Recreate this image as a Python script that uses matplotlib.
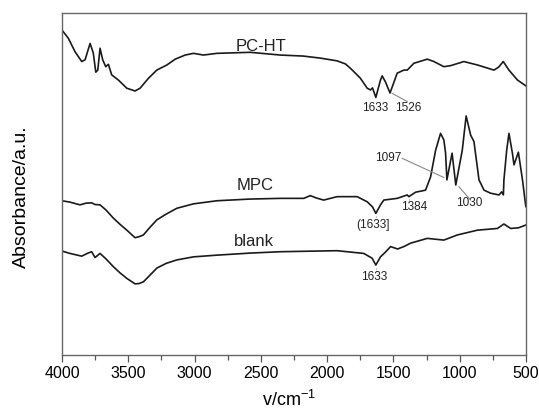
import numpy as np
import matplotlib
matplotlib.use("Agg")
import matplotlib.pyplot as plt
from matplotlib.ticker import MultipleLocator

plt.rcParams["font.family"] = ["Liberation Sans", "DejaVu Sans"]
plt.rcParams["mathtext.fontset"] = "custom"
plt.rcParams["mathtext.rm"] = "Liberation Sans"

# wavenumber (cm-1) / absorbance (a.u., offset stacked)
pcht_wn = [4000, 3952, 3902, 3851, 3826, 3788, 3764, 3745, 3730, 3713, 3693, 3670,
           3650, 3625, 3575, 3511, 3449, 3411, 3348, 3285, 3209, 3146, 3071, 3008,
           2933, 2831, 2580, 2353, 2179, 2051, 1925, 1862, 1824, 1787, 1749, 1698,
           1673, 1658, 1633, 1598, 1585, 1560, 1526, 1472, 1422, 1396, 1346, 1245,
           1195, 1120, 1069, 969, 867, 742, 706, 672, 629, 565, 502]
pcht_a = [0.950, 0.926, 0.887, 0.858, 0.863, 0.911, 0.883, 0.827, 0.833, 0.897, 0.863, 0.843,
          0.850, 0.819, 0.804, 0.780, 0.772, 0.780, 0.809, 0.833, 0.848, 0.865, 0.877, 0.882,
          0.877, 0.882, 0.885, 0.877, 0.874, 0.868, 0.860, 0.851, 0.838, 0.824, 0.809, 0.780,
          0.775, 0.781, 0.753, 0.804, 0.816, 0.798, 0.766, 0.824, 0.833, 0.833, 0.853, 0.865,
          0.858, 0.843, 0.846, 0.858, 0.848, 0.833, 0.842, 0.858, 0.833, 0.804, 0.787]

mpc_wn = [4000, 3940, 3864, 3819, 3776, 3751, 3713, 3668, 3612, 3562, 3511, 3449,
          3418, 3386, 3335, 3285, 3214, 3134, 3008, 2831, 2580, 2353, 2177, 2127,
          2081, 2026, 1925, 1774, 1698, 1658, 1633, 1598, 1573, 1472, 1396, 1384,
          1333, 1258, 1220, 1182, 1145, 1120, 1107, 1097, 1058, 1030, 981, 952,
          918, 893, 855, 817, 767, 704, 684, 671, 667, 646, 629, 603, 591, 558,
          527, 502]
mpc_a = [0.451, 0.447, 0.439, 0.444, 0.445, 0.440, 0.439, 0.424, 0.400, 0.382, 0.365, 0.343,
         0.346, 0.351, 0.374, 0.395, 0.412, 0.429, 0.442, 0.451, 0.456, 0.458, 0.458, 0.466,
         0.459, 0.453, 0.463, 0.463, 0.448, 0.433, 0.414, 0.439, 0.453, 0.458, 0.468, 0.463,
         0.476, 0.482, 0.521, 0.599, 0.648, 0.629, 0.590, 0.512, 0.590, 0.497, 0.599, 0.699,
         0.643, 0.624, 0.512, 0.482, 0.473, 0.468, 0.477, 0.468, 0.512, 0.599, 0.648, 0.590,
         0.556, 0.593, 0.512, 0.434]

blank_wn = [4000, 3940, 3851, 3804, 3776, 3751, 3713, 3668, 3612, 3562, 3511, 3449,
            3418, 3386, 3335, 3285, 3214, 3134, 3008, 2831, 2580, 2353, 1925, 1724,
            1661, 1633, 1598, 1560, 1522, 1469, 1422, 1371, 1245, 1120, 1018, 867,
            716, 667, 616, 556, 502]
blank_a = [0.304, 0.297, 0.289, 0.298, 0.302, 0.285, 0.297, 0.281, 0.258, 0.240, 0.224, 0.208,
           0.209, 0.214, 0.234, 0.254, 0.268, 0.278, 0.287, 0.292, 0.298, 0.302, 0.305, 0.297,
           0.283, 0.263, 0.287, 0.301, 0.317, 0.310, 0.317, 0.327, 0.341, 0.336, 0.351, 0.365,
           0.370, 0.383, 0.370, 0.372, 0.380]

fig = plt.figure(figsize=(5.39, 4.16), dpi=100)
ax = fig.add_axes([0.115, 0.1466, 0.861, 0.8222])

for wn, a in [(pcht_wn, pcht_a), (mpc_wn, mpc_a), (blank_wn, blank_a)]:
    ax.plot(wn, a, color="#1a1a1a", lw=1.2)

# curve names
ax.text(2497, 0.901, "PC-HT", fontsize=12, ha="center", va="center", color="#222")
ax.text(2542, 0.497, "MPC", fontsize=12, ha="center", va="center", color="#222")
ax.text(2550, 0.333, "blank", fontsize=12, ha="center", va="center", color="#222")

# peak labels
pk = dict(fontsize=8.5, ha="center", va="center", color="#222")
ax.text(1636, 0.722, "1633", **pk)
ax.text(1386, 0.722, "1526", **pk)
ax.text(1537, 0.576, "1097", **pk)
ax.text(926, 0.444, "1030", **pk)
ax.text(1341, 0.433, "1384", **pk)
ax.text(1651, 0.380, "(1633]", **pk)
ax.text(1643, 0.228, "1633", **pk)

# leader lines
ld = dict(color="#888", lw=0.8)
ax.plot([1510, 1396], [0.765, 0.741], **ld)
ax.plot([1434, 1120], [0.575, 0.519], **ld)
ax.plot([1006, 918], [0.492, 0.453], **ld)
ax.plot([1633, 1633], [0.405, 0.394], color="#888", lw=0.7, ls=":")
ax.plot([1384, 1384], [0.456, 0.446], color="#888", lw=0.7, ls=":")
ax.plot([1633, 1633], [0.255, 0.243], color="#888", lw=0.7, ls=":")

ax.set_xlim(4000, 500)
ax.set_ylim(0, 1)
ax.xaxis.set_major_locator(MultipleLocator(500))
ax.xaxis.set_minor_locator(MultipleLocator(250))
ax.set_yticks([])
ax.tick_params(axis="x", which="major", length=5, width=0.9, color="#555",
               labelsize=11.5, pad=3)
ax.tick_params(axis="x", which="minor", length=3.5, width=0.9, color="#555")
for s in ax.spines.values():
    s.set_color("#666")
    s.set_linewidth(1.0)

ax.set_xlabel(r"v/cm$^{\mathregular{-1}}$", fontsize=13)
ax.xaxis.set_label_coords(0.489, -0.102)
ax.set_ylabel("Absorbance/a.u.", fontsize=14)
ax.yaxis.set_label_coords(-0.069, 0.463)

fig.savefig("out.png", dpi=100)
